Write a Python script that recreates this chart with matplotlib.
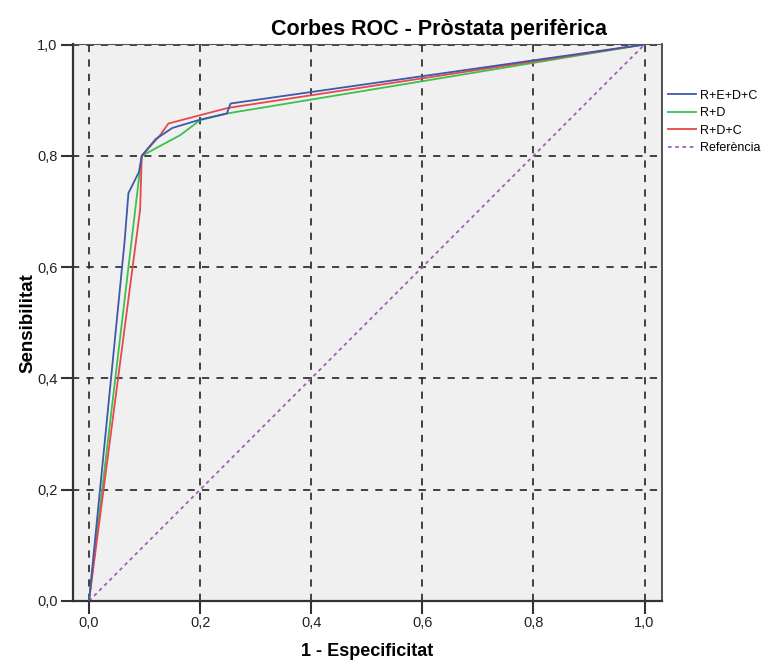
import matplotlib.pyplot as plt
from matplotlib.ticker import FuncFormatter

# ROC curve points (1 - specificity, sensitivity)
fpr_redc = [0.0, 0.064, 0.071, 0.090, 0.095, 0.120, 0.150, 0.200, 0.248, 0.255, 1.0]
tpr_redc = [0.0, 0.645, 0.733, 0.771, 0.800, 0.830, 0.850, 0.865, 0.876, 0.894, 1.0]

fpr_rd = [0.0, 0.090, 0.095, 0.164, 0.200, 0.248, 1.0]
tpr_rd = [0.0, 0.760, 0.800, 0.837, 0.864, 0.876, 1.0]

fpr_rdc = [0.0, 0.092, 0.095, 0.128, 0.143, 0.200, 0.250, 1.0]
tpr_rdc = [0.0, 0.703, 0.800, 0.837, 0.858, 0.873, 0.886, 1.0]

ref = [0.0, 1.0]

ticks = [0.0, 0.2, 0.4, 0.6, 0.8, 1.0]
labels = ["R+E+D+C", "R+D", "R+D+C", "Referència"]
colors = ["#3E58AC", "#3CC04E", "#E8474B", "#A35DBA"]

plt.rcParams['font.family'] = ['Liberation Sans', 'DejaVu Sans']

fig = plt.figure(figsize=(7.74, 6.64), dpi=100)
ax = fig.add_axes([0.0943, 0.0949, 0.761, 0.8389])
ax.set_facecolor("#F0F0F0")

for x in ticks:
    ax.plot([x, x], [0, 1], color="#333333", lw=1.3, dashes=(4, 4), zorder=1)
for y in ticks[1:]:
    ax.plot([-0.03, 1.04], [y, y], color="#333333", lw=1.3, dashes=(4, 4), zorder=1)

l1, = ax.plot(fpr_redc, tpr_redc, color=colors[0], lw=1.3, zorder=3)
l2, = ax.plot(fpr_rd, tpr_rd, color=colors[1], lw=1.3, zorder=2)
l3, = ax.plot(fpr_rdc, tpr_rdc, color=colors[2], lw=1.3, zorder=2.5)
l4, = ax.plot(ref, ref, color=colors[3], lw=1.3, dashes=(2, 2), zorder=2)

ax.set_xlim(-0.0288, 1.0315)
ax.set_ylim(0, 1.001)
ax.set_xticks(ticks)
ax.set_yticks(ticks)
fmt = FuncFormatter(lambda v, p: f"{v:.1f}".replace(".", ","))
ax.xaxis.set_major_formatter(fmt)
ax.yaxis.set_major_formatter(fmt)
ax.tick_params(direction="out", length=9, width=1.5, color="#333333",
               labelsize=10.5, labelcolor="#222222", pad=2)

for side in ["left", "bottom"]:
    ax.spines[side].set_linewidth(1.6)
    ax.spines[side].set_color("#333333")
ax.spines["right"].set_linewidth(1.2)
ax.spines["right"].set_color("#333333")
ax.spines["top"].set_linewidth(0.8)
ax.spines["top"].set_color("#555555")

fig.text(367 / 774, 1 - 651 / 664, "1 - Especificitat", fontsize=13,
         fontweight="bold", ha="center", va="center")
fig.text(28 / 774, 1 - 323 / 664, "Sensibilitat", fontsize=13.5,
         fontweight="bold", ha="center", va="center", rotation=90)
fig.text(0.567, 0.955, "Corbes ROC - Pròstata perifèrica", fontsize=15.5,
         fontweight="bold", ha="center", va="center")

fig.legend([l1, l2, l3, l4], labels, loc="upper left",
           bbox_to_anchor=(0.848, 0.882), frameon=False, fontsize=9,
           handlelength=2.3, handletextpad=0.3, labelspacing=0.45)

fig.savefig("out.png", dpi=100)
